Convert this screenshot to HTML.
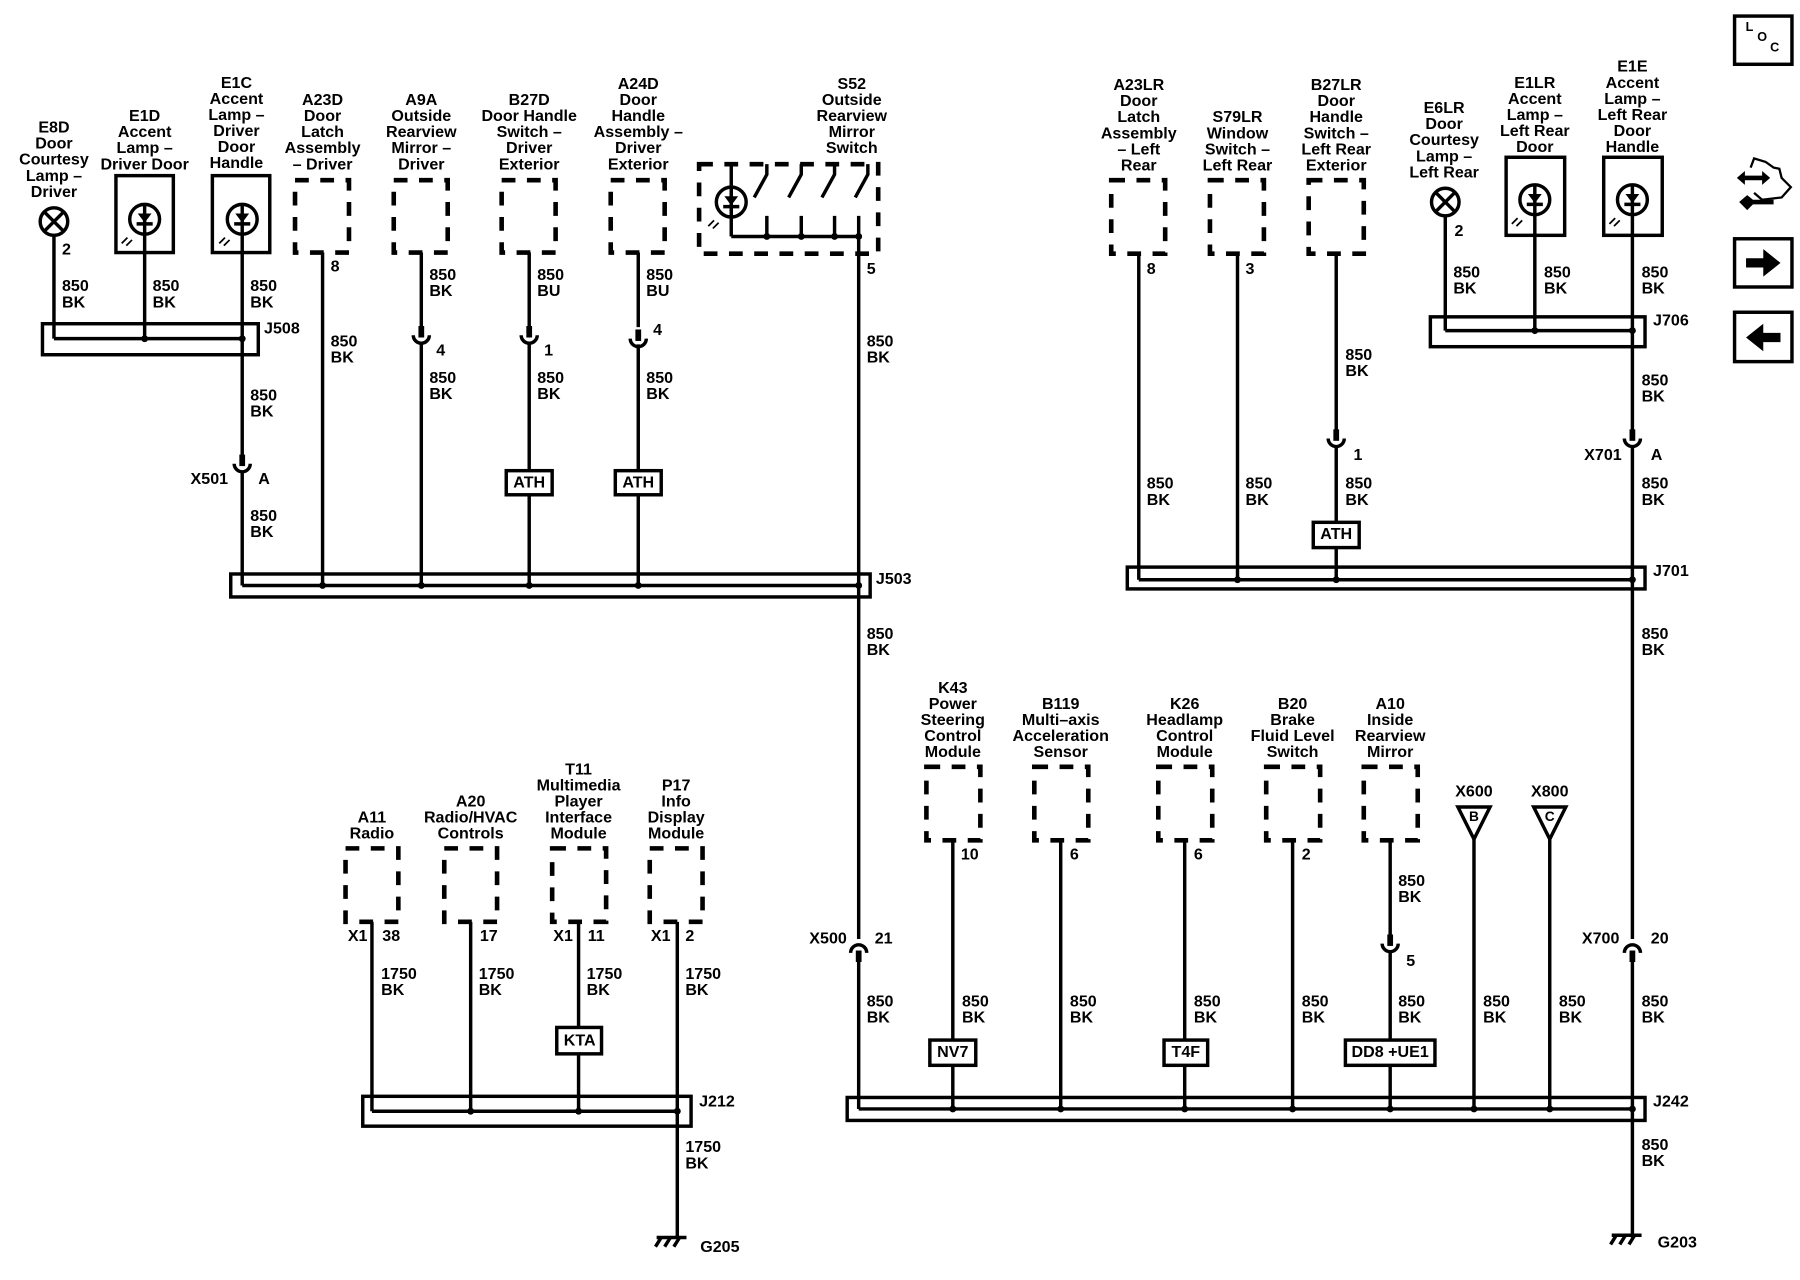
<!DOCTYPE html>
<html><head><meta charset="utf-8">
<style>
html,body{margin:0;padding:0;background:#fff;}
svg{display:block;}
.t{font-family:"Liberation Sans Narrow","Liberation Sans",sans-serif;font-weight:bold;font-size:14px;fill:#000;text-anchor:middle;dominant-baseline:middle;}
.l{text-anchor:start;}
.w{stroke:#000;stroke-width:3;fill:none;}
.b{stroke:#000;stroke-width:3;fill:none;}
.wb{stroke:#000;stroke-width:3;fill:#fff;}
.d{stroke:#000;stroke-width:4;fill:none;stroke-dasharray:12 10;}
.f{fill:#000;}
</style></head><body>
<svg width="1800" height="1280" viewBox="0 0 1568 1115" preserveAspectRatio="none" xmlns="http://www.w3.org/2000/svg">
<defs>
<g id="lamp"><circle r="12" class="b"/><line x1="-8.5" y1="-8.5" x2="8.5" y2="8.5" class="b"/><line x1="-8.5" y1="8.5" x2="8.5" y2="-8.5" class="b"/></g>
<g id="led"><circle r="13" class="b"/><line x1="0" y1="-13" x2="0" y2="13" class="b"/><path d="M-6,-5 L6,-5 L0,3 Z" class="f"/><line x1="-7" y1="4" x2="7" y2="4" class="b"/><path d="M-15,16 L-20,21 M-11,18 L-16,23" stroke="#000" stroke-width="1.5"/></g>
<g id="cup"><rect x="-2.5" y="-12" width="5" height="10" class="f"/><path d="M-7,-4 A7,7 0 0 0 7,-4" class="b"/></g>
<g id="arch"><rect x="-2.5" y="2" width="5" height="10" class="f"/><path d="M-7,4 A7,7 0 0 1 7,4" class="b"/></g>
<g id="gnd"><line x1="-18" y1="0" x2="8" y2="0" class="b"/><path d="M-14,0 L-19,8 M-6,0 L-11,8 M2,0 L-3,8" class="b"/></g>
</defs>

<text class="t" x="47"><tspan x="47" y="112">E8D</tspan><tspan x="47" dy="14">Door</tspan><tspan x="47" dy="14">Courtesy</tspan><tspan x="47" dy="14">Lamp –</tspan><tspan x="47" dy="14">Driver</tspan></text>
<use href="#lamp" x="47" y="193"/>
<text class="t l" x="54" y="218">2</text>
<line x1="47" y1="205" x2="47" y2="295" class="w"/>
<text class="t l" x="54" y="250">850</text><text class="t l" x="54" y="264">BK</text>

<text class="t"><tspan x="126" y="102">E1D</tspan><tspan x="126" dy="14">Accent</tspan><tspan x="126" dy="14">Lamp –</tspan><tspan x="126" dy="14">Driver Door</tspan></text>
<rect x="101" y="153" width="50" height="67" class="b"/>
<use href="#led" x="126" y="191"/>
<line x1="126" y1="204" x2="126" y2="295" class="w"/>
<text class="t l" x="133" y="250">850</text><text class="t l" x="133" y="264">BK</text>

<text class="t"><tspan x="206" y="73">E1C</tspan><tspan x="206" dy="14">Accent</tspan><tspan x="206" dy="14">Lamp –</tspan><tspan x="206" dy="14">Driver</tspan><tspan x="206" dy="14">Door</tspan><tspan x="206" dy="14">Handle</tspan></text>
<rect x="185" y="153" width="50" height="67" class="b"/>
<use href="#led" x="211" y="191"/>
<line x1="211" y1="204" x2="211" y2="398" class="w"/>
<text class="t l" x="218" y="250">850</text><text class="t l" x="218" y="264">BK</text>

<rect x="37" y="282" width="188" height="27" class="b"/>
<line x1="47" y1="295" x2="211" y2="295" class="w"/>
<circle cx="126" cy="295" r="3" class="f"/><circle cx="211" cy="295" r="3" class="f"/>
<text class="t l" x="230" y="287">J508</text>
<text class="t l" x="218" y="345">850</text><text class="t l" x="218" y="359">BK</text>
<use href="#cup" x="211" y="408"/>
<line x1="211" y1="410" x2="211" y2="510" class="w"/>
<text class="t l" x="166" y="418">X501</text><text class="t l" x="225" y="418">A</text>
<text class="t l" x="218" y="450">850</text><text class="t l" x="218" y="464">BK</text>

<text class="t"><tspan x="281" y="88">A23D</tspan><tspan x="281" dy="14">Door</tspan><tspan x="281" dy="14">Latch</tspan><tspan x="281" dy="14">Assembly</tspan><tspan x="281" dy="14">– Driver</tspan></text>
<rect x="257" y="157" width="47" height="63" class="d"/>
<text class="t l" x="288" y="233">8</text>
<line x1="281" y1="220" x2="281" y2="510" class="w"/>
<text class="t l" x="288" y="298">850</text><text class="t l" x="288" y="312">BK</text>

<text class="t"><tspan x="367" y="88">A9A</tspan><tspan x="367" dy="14">Outside</tspan><tspan x="367" dy="14">Rearview</tspan><tspan x="367" dy="14">Mirror –</tspan><tspan x="367" dy="14">Driver</tspan></text>
<rect x="343" y="157" width="47" height="63" class="d"/>
<line x1="367" y1="220" x2="367" y2="285" class="w"/>
<use href="#cup" x="367" y="296"/>
<line x1="367" y1="299" x2="367" y2="510" class="w"/>
<text class="t l" x="374" y="240">850</text><text class="t l" x="374" y="254">BK</text>
<text class="t l" x="380" y="306">4</text>
<text class="t l" x="374" y="330">850</text><text class="t l" x="374" y="344">BK</text>

<text class="t"><tspan x="461" y="88">B27D</tspan><tspan x="461" dy="14">Door Handle</tspan><tspan x="461" dy="14">Switch –</tspan><tspan x="461" dy="14">Driver</tspan><tspan x="461" dy="14">Exterior</tspan></text>
<rect x="437" y="157" width="47" height="63" class="d"/>
<line x1="461" y1="220" x2="461" y2="285" class="w"/>
<use href="#cup" x="461" y="296"/>
<line x1="461" y1="299" x2="461" y2="510" class="w"/>
<text class="t l" x="468" y="240">850</text><text class="t l" x="468" y="254">BU</text>
<text class="t l" x="474" y="306">1</text>
<text class="t l" x="468" y="330">850</text><text class="t l" x="468" y="344">BK</text>
<rect x="441" y="410" width="40" height="21" class="wb"/>
<text class="t" x="461" y="421">ATH</text>

<text class="t"><tspan x="556" y="74">A24D</tspan><tspan x="556" dy="14">Door</tspan><tspan x="556" dy="14">Handle</tspan><tspan x="556" dy="14">Assembly –</tspan><tspan x="556" dy="14">Driver</tspan><tspan x="556" dy="14">Exterior</tspan></text>
<rect x="532" y="157" width="47" height="63" class="d"/>
<line x1="556" y1="220" x2="556" y2="285" class="w"/>
<use href="#cup" x="556" y="299"/>
<line x1="556" y1="300" x2="556" y2="510" class="w"/>
<text class="t l" x="563" y="240">850</text><text class="t l" x="563" y="254">BU</text>
<text class="t l" x="569" y="288">4</text>
<text class="t l" x="563" y="330">850</text><text class="t l" x="563" y="344">BK</text>
<rect x="536" y="410" width="40" height="21" class="wb"/>
<text class="t" x="556" y="421">ATH</text>

<text class="t"><tspan x="742" y="74">S52</tspan><tspan x="742" dy="14">Outside</tspan><tspan x="742" dy="14">Rearview</tspan><tspan x="742" dy="14">Mirror</tspan><tspan x="742" dy="14">Switch</tspan></text>
<rect x="609" y="143" width="156" height="78" class="d"/>
<line x1="637" y1="143" x2="637" y2="206" class="w"/>
<use href="#led" x="637" y="176"/>
<line x1="637" y1="206" x2="748" y2="206" class="w"/>
<path d="M668,143 L668,152 L657,172 M668,188 L668,206" class="w"/>
<path d="M698,143 L698,152 L687,172 M698,188 L698,206" class="w"/>
<path d="M727,143 L727,152 L716,172 M727,188 L727,206" class="w"/>
<path d="M756,143 L756,152 L745,172" class="w"/>
<circle cx="668" cy="206" r="3" class="f"/><circle cx="698" cy="206" r="3" class="f"/><circle cx="727" cy="206" r="3" class="f"/><circle cx="748" cy="206" r="3" class="f"/>
<line x1="748" y1="188" x2="748" y2="818" class="w"/>
<text class="t l" x="755" y="235">5</text>
<text class="t l" x="755" y="298">850</text><text class="t l" x="755" y="312">BK</text>
<text class="t l" x="755" y="553">850</text><text class="t l" x="755" y="567">BK</text>
<use href="#arch" x="748" y="826"/>
<line x1="748" y1="836" x2="748" y2="966" class="w"/>
<text class="t l" x="705" y="818">X500</text><text class="t l" x="762" y="818">21</text>
<text class="t l" x="755" y="873">850</text><text class="t l" x="755" y="887">BK</text>

<rect x="201" y="500" width="557" height="20" class="b"/>
<line x1="211" y1="510" x2="748" y2="510" class="w"/>
<circle cx="281" cy="510" r="3" class="f"/><circle cx="367" cy="510" r="3" class="f"/><circle cx="461" cy="510" r="3" class="f"/><circle cx="556" cy="510" r="3" class="f"/><circle cx="748" cy="510" r="3" class="f"/>
<text class="t l" x="763" y="505">J503</text>

<text class="t"><tspan x="992" y="75">A23LR</tspan><tspan x="992" dy="14">Door</tspan><tspan x="992" dy="14">Latch</tspan><tspan x="992" dy="14">Assembly</tspan><tspan x="992" dy="14">– Left</tspan><tspan x="992" dy="14">Rear</tspan></text>
<rect x="968" y="157" width="47" height="64" class="d"/>
<text class="t l" x="999" y="235">8</text>
<line x1="992" y1="221" x2="992" y2="505" class="w"/>
<text class="t l" x="999" y="422">850</text><text class="t l" x="999" y="436">BK</text>

<text class="t"><tspan x="1078" y="103">S79LR</tspan><tspan x="1078" dy="14">Window</tspan><tspan x="1078" dy="14">Switch –</tspan><tspan x="1078" dy="14">Left Rear</tspan></text>
<rect x="1054" y="157" width="47" height="64" class="d"/>
<text class="t l" x="1085" y="235">3</text>
<line x1="1078" y1="221" x2="1078" y2="505" class="w"/>
<text class="t l" x="1085" y="422">850</text><text class="t l" x="1085" y="436">BK</text>

<text class="t"><tspan x="1164" y="75">B27LR</tspan><tspan x="1164" dy="14">Door</tspan><tspan x="1164" dy="14">Handle</tspan><tspan x="1164" dy="14">Switch –</tspan><tspan x="1164" dy="14">Left Rear</tspan><tspan x="1164" dy="14">Exterior</tspan></text>
<rect x="1140" y="157" width="48" height="64" class="d"/>
<line x1="1164" y1="221" x2="1164" y2="375" class="w"/>
<use href="#cup" x="1164" y="386"/>
<line x1="1164" y1="389" x2="1164" y2="505" class="w"/>
<text class="t l" x="1172" y="310">850</text><text class="t l" x="1172" y="324">BK</text>
<text class="t l" x="1179" y="397">1</text>
<text class="t l" x="1172" y="422">850</text><text class="t l" x="1172" y="436">BK</text>
<rect x="1144" y="455" width="40" height="22" class="wb"/>
<text class="t" x="1164" y="466">ATH</text>

<text class="t"><tspan x="1258" y="95">E6LR</tspan><tspan x="1258" dy="14">Door</tspan><tspan x="1258" dy="14">Courtesy</tspan><tspan x="1258" dy="14">Lamp –</tspan><tspan x="1258" dy="14">Left Rear</tspan></text>
<use href="#lamp" x="1259" y="176"/>
<text class="t l" x="1267" y="202">2</text>
<line x1="1259" y1="188" x2="1259" y2="288" class="w"/>
<text class="t l" x="1266" y="238">850</text><text class="t l" x="1266" y="252">BK</text>

<text class="t"><tspan x="1337" y="73">E1LR</tspan><tspan x="1337" dy="14">Accent</tspan><tspan x="1337" dy="14">Lamp –</tspan><tspan x="1337" dy="14">Left Rear</tspan><tspan x="1337" dy="14">Door</tspan></text>
<rect x="1312" y="137" width="51" height="68" class="b"/>
<use href="#led" x="1337" y="174"/>
<line x1="1337" y1="187" x2="1337" y2="288" class="w"/>
<text class="t l" x="1345" y="238">850</text><text class="t l" x="1345" y="252">BK</text>

<text class="t"><tspan x="1422" y="59">E1E</tspan><tspan x="1422" dy="14">Accent</tspan><tspan x="1422" dy="14">Lamp –</tspan><tspan x="1422" dy="14">Left Rear</tspan><tspan x="1422" dy="14">Door</tspan><tspan x="1422" dy="14">Handle</tspan></text>
<rect x="1397" y="137" width="51" height="68" class="b"/>
<use href="#led" x="1422" y="174"/>
<line x1="1422" y1="187" x2="1422" y2="375" class="w"/>
<text class="t l" x="1430" y="238">850</text><text class="t l" x="1430" y="252">BK</text>

<rect x="1246" y="276" width="187" height="26" class="b"/>
<line x1="1259" y1="288" x2="1422" y2="288" class="w"/>
<circle cx="1337" cy="288" r="3" class="f"/><circle cx="1422" cy="288" r="3" class="f"/>
<text class="t l" x="1440" y="280">J706</text>
<text class="t l" x="1430" y="332">850</text><text class="t l" x="1430" y="346">BK</text>
<use href="#cup" x="1422" y="386"/>
<line x1="1422" y1="389" x2="1422" y2="818" class="w"/>
<text class="t l" x="1380" y="397">X701</text><text class="t l" x="1438" y="397">A</text>
<text class="t l" x="1430" y="422">850</text><text class="t l" x="1430" y="436">BK</text>

<rect x="982" y="494" width="451" height="19" class="b"/>
<line x1="992" y1="505" x2="1422" y2="505" class="w"/>
<circle cx="1078" cy="505" r="3" class="f"/><circle cx="1164" cy="505" r="3" class="f"/><circle cx="1422" cy="505" r="3" class="f"/>
<text class="t l" x="1440" y="498">J701</text>
<text class="t l" x="1430" y="553">850</text><text class="t l" x="1430" y="567">BK</text>
<use href="#arch" x="1422" y="826"/>
<line x1="1422" y1="836" x2="1422" y2="1078" class="w"/>
<text class="t l" x="1378" y="818">X700</text><text class="t l" x="1438" y="818">20</text>
<text class="t l" x="1430" y="873">850</text><text class="t l" x="1430" y="887">BK</text>
<text class="t l" x="1430" y="998">850</text><text class="t l" x="1430" y="1012">BK</text>
<use href="#gnd" x="1422" y="1076"/>
<text class="t l" x="1444" y="1083">G203</text>

<text class="t"><tspan x="830" y="600">K43</tspan><tspan x="830" dy="14">Power</tspan><tspan x="830" dy="14">Steering</tspan><tspan x="830" dy="14">Control</tspan><tspan x="830" dy="14">Module</tspan></text>
<rect x="807" y="668" width="47" height="64" class="d"/>
<text class="t l" x="837" y="745">10</text>
<line x1="830" y1="732" x2="830" y2="966" class="w"/>
<text class="t l" x="838" y="873">850</text><text class="t l" x="838" y="887">BK</text>
<rect x="810" y="906" width="40" height="22" class="wb"/>
<text class="t" x="830" y="917">NV7</text>

<text class="t"><tspan x="924" y="614">B119</tspan><tspan x="924" dy="14">Multi–axis</tspan><tspan x="924" dy="14">Acceleration</tspan><tspan x="924" dy="14">Sensor</tspan></text>
<rect x="901" y="668" width="47" height="64" class="d"/>
<text class="t l" x="932" y="745">6</text>
<line x1="924" y1="732" x2="924" y2="966" class="w"/>
<text class="t l" x="932" y="873">850</text><text class="t l" x="932" y="887">BK</text>

<text class="t"><tspan x="1032" y="614">K26</tspan><tspan x="1032" dy="14">Headlamp</tspan><tspan x="1032" dy="14">Control</tspan><tspan x="1032" dy="14">Module</tspan></text>
<rect x="1009" y="668" width="47" height="64" class="d"/>
<text class="t l" x="1040" y="745">6</text>
<line x1="1032" y1="732" x2="1032" y2="966" class="w"/>
<text class="t l" x="1040" y="873">850</text><text class="t l" x="1040" y="887">BK</text>
<rect x="1014" y="906" width="38" height="22" class="wb"/>
<text class="t" x="1033" y="917">T4F</text>

<text class="t"><tspan x="1126" y="614">B20</tspan><tspan x="1126" dy="14">Brake</tspan><tspan x="1126" dy="14">Fluid Level</tspan><tspan x="1126" dy="14">Switch</tspan></text>
<rect x="1103" y="668" width="47" height="64" class="d"/>
<text class="t l" x="1134" y="745">2</text>
<line x1="1126" y1="732" x2="1126" y2="966" class="w"/>
<text class="t l" x="1134" y="873">850</text><text class="t l" x="1134" y="887">BK</text>

<text class="t"><tspan x="1211" y="614">A10</tspan><tspan x="1211" dy="14">Inside</tspan><tspan x="1211" dy="14">Rearview</tspan><tspan x="1211" dy="14">Mirror</tspan></text>
<rect x="1188" y="668" width="47" height="64" class="d"/>
<line x1="1211" y1="732" x2="1211" y2="815" class="w"/>
<use href="#cup" x="1211" y="826"/>
<line x1="1211" y1="829" x2="1211" y2="966" class="w"/>
<text class="t l" x="1218" y="768">850</text><text class="t l" x="1218" y="782">BK</text>
<text class="t l" x="1225" y="838">5</text>
<text class="t l" x="1218" y="873">850</text><text class="t l" x="1218" y="887">BK</text>
<rect x="1172" y="906" width="78" height="22" class="wb"/>
<text class="t" x="1211" y="917">DD8 +UE1</text>

<text class="t" x="1284" y="690">X600</text>
<path d="M1270,703 L1298,703 L1284,731 Z" class="b"/>
<text class="t" x="1284" y="712" style="font-size:12px">B</text>
<line x1="1284" y1="731" x2="1284" y2="966" class="w"/>
<text class="t l" x="1292" y="873">850</text><text class="t l" x="1292" y="887">BK</text>

<text class="t" x="1350" y="690">X800</text>
<path d="M1336,703 L1364,703 L1350,731 Z" class="b"/>
<text class="t" x="1350" y="712" style="font-size:12px">C</text>
<line x1="1350" y1="731" x2="1350" y2="966" class="w"/>
<text class="t l" x="1358" y="873">850</text><text class="t l" x="1358" y="887">BK</text>

<rect x="738" y="956" width="695" height="20" class="b"/>
<line x1="748" y1="966" x2="1422" y2="966" class="w"/>
<circle cx="830" cy="966" r="3" class="f"/><circle cx="924" cy="966" r="3" class="f"/><circle cx="1032" cy="966" r="3" class="f"/><circle cx="1126" cy="966" r="3" class="f"/><circle cx="1211" cy="966" r="3" class="f"/><circle cx="1284" cy="966" r="3" class="f"/><circle cx="1350" cy="966" r="3" class="f"/><circle cx="1422" cy="966" r="3" class="f"/>
<text class="t l" x="1440" y="960">J242</text>

<text class="t"><tspan x="324" y="713">A11</tspan><tspan x="324" dy="14">Radio</tspan></text>
<rect x="301" y="739" width="46" height="64" class="d"/>
<text class="t l" x="303" y="816">X1</text><text class="t l" x="333" y="816">38</text>
<line x1="324" y1="803" x2="324" y2="968" class="w"/>
<text class="t l" x="332" y="849">1750</text><text class="t l" x="332" y="863">BK</text>

<text class="t"><tspan x="410" y="699">A20</tspan><tspan x="410" dy="14">Radio/HVAC</tspan><tspan x="410" dy="14">Controls</tspan></text>
<rect x="387" y="739" width="46" height="64" class="d"/>
<text class="t l" x="418" y="816">17</text>
<line x1="410" y1="803" x2="410" y2="968" class="w"/>
<text class="t l" x="417" y="849">1750</text><text class="t l" x="417" y="863">BK</text>

<text class="t"><tspan x="504" y="671">T11</tspan><tspan x="504" dy="14">Multimedia</tspan><tspan x="504" dy="14">Player</tspan><tspan x="504" dy="14">Interface</tspan><tspan x="504" dy="14">Module</tspan></text>
<rect x="481" y="739" width="47" height="64" class="d"/>
<text class="t l" x="482" y="816">X1</text><text class="t l" x="512" y="816">11</text>
<line x1="504" y1="803" x2="504" y2="968" class="w"/>
<text class="t l" x="511" y="849">1750</text><text class="t l" x="511" y="863">BK</text>
<rect x="485" y="895" width="39" height="23" class="wb"/>
<text class="t" x="505" y="907">KTA</text>

<text class="t"><tspan x="589" y="685">P17</tspan><tspan x="589" dy="14">Info</tspan><tspan x="589" dy="14">Display</tspan><tspan x="589" dy="14">Module</tspan></text>
<rect x="566" y="739" width="46" height="64" class="d"/>
<text class="t l" x="567" y="816">X1</text><text class="t l" x="597" y="816">2</text>
<line x1="590" y1="803" x2="590" y2="1078" class="w"/>
<text class="t l" x="597" y="849">1750</text><text class="t l" x="597" y="863">BK</text>

<rect x="316" y="955" width="286" height="26" class="b"/>
<line x1="324" y1="968" x2="590" y2="968" class="w"/>
<circle cx="410" cy="968" r="3" class="f"/><circle cx="504" cy="968" r="3" class="f"/><circle cx="590" cy="968" r="3" class="f"/>
<text class="t l" x="609" y="960">J212</text>
<text class="t l" x="597" y="1000">1750</text><text class="t l" x="597" y="1014">BK</text>
<use href="#gnd" x="590" y="1078"/>
<text class="t l" x="610" y="1087">G205</text>

<rect x="1511" y="14" width="50" height="42" class="b"/>
<text class="t" x="1524" y="24" style="font-size:11px">L</text>
<text class="t" x="1535" y="33" style="font-size:11px">O</text>
<text class="t" x="1546" y="42" style="font-size:11px">C</text>

<path d="M1513,155 L1520,149 L1520,153 L1535,153 L1535,149 L1542,155 L1535,161 L1535,157 L1520,157 L1520,161 Z" class="f"/>
<path d="M1525,146 L1528,138 L1538,141 L1545,146 L1550,147 L1552,155 L1560,163 L1552,172 L1535,174 L1528,168" fill="none" stroke="#000" stroke-width="2"/>
<path d="M1515,176 L1522,170 L1527,174 L1545,174 L1545,178 L1527,178 L1522,183 Z" class="f"/>

<rect x="1511" y="208" width="50" height="42" class="b"/>
<path d="M1521,225 L1536,225 L1536,217 L1551,229 L1536,241 L1536,233 L1521,233 Z" class="f"/>
<rect x="1511" y="272" width="50" height="43" class="b"/>
<path d="M1551,290 L1536,290 L1536,282 L1521,294 L1536,306 L1536,298 L1551,298 Z" class="f"/>
</svg>
</body></html>
